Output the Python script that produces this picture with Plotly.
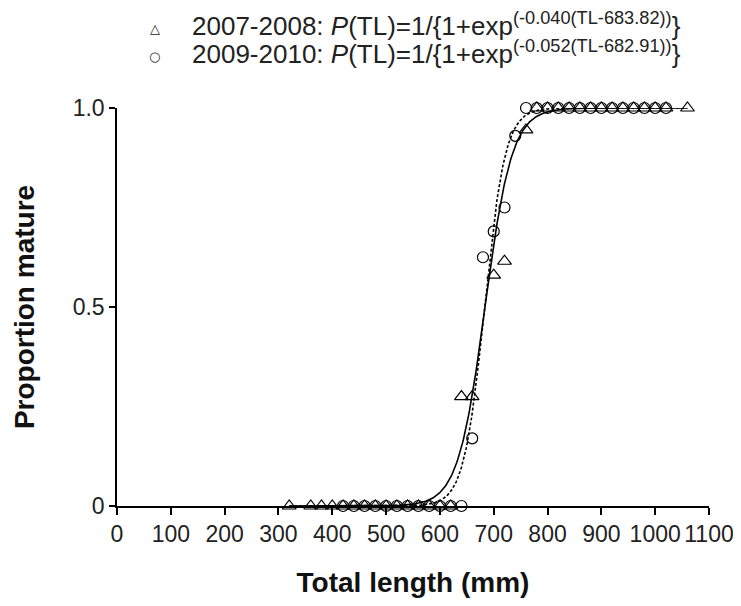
import numpy as np
import plotly.graph_objects as go

# ---- Data ----
tl_0708 = [320, 360, 380, 400, 420, 440, 460, 480, 500, 520, 540, 560, 580, 600, 620,
           640, 660, 700, 720, 760,
           780, 800, 820, 840, 860, 880, 900, 920, 940, 960, 980, 1000, 1020, 1060]
p_0708 = [0, 0, 0, 0, 0, 0, 0, 0, 0, 0, 0, 0, 0, 0, 0,
          0.275, 0.275, 0.58, 0.615, 0.945,
          1, 1, 1, 1, 1, 1, 1, 1, 1, 1, 1, 1, 1, 1]

tl_0910 = [420, 440, 460, 480, 500, 520, 540, 560, 580, 600, 620, 640,
           660, 680, 700, 720, 740,
           760, 780, 800, 820, 840, 860, 880, 900, 920, 940, 960, 980, 1000, 1020]
p_0910 = [0, 0, 0, 0, 0, 0, 0, 0, 0, 0, 0, 0,
          0.17, 0.625, 0.69, 0.75, 0.93,
          1, 1, 1, 1, 1, 1, 1, 1, 1, 1, 1, 1, 1, 1]

# fitted logistic parameters (from legend)
b_0708, m_0708 = 0.040, 683.82
b_0910, m_0910 = 0.052, 682.91
curve_x = np.linspace(320, 1060, 600)
curve_0708 = 1 / (1 + np.exp(-b_0708 * (curve_x - m_0708)))
curve_0910 = 1 / (1 + np.exp(-b_0910 * (curve_x - m_0910)))

x_ticks = [0, 100, 200, 300, 400, 500, 600, 700, 800, 900, 1000, 1100]
y_ticks = [0, 0.5, 1.0]
y_tick_labels = ["0", "0.5", "1.0"]

label_0708 = "2007-2008: <i>P</i>(TL)=1/{1+exp<sup>(-0.040(TL-683.82))</sup>}"
label_0910 = "2009-2010: <i>P</i>(TL)=1/{1+exp<sup>(-0.052(TL-682.91))</sup>}"

FONT = "Liberation Sans, Arial, sans-serif"

fig = go.Figure()
fig.add_trace(go.Scatter(x=curve_x, y=curve_0708, mode="lines",
                         line=dict(color="black", width=1.6), showlegend=False,
                         cliponaxis=False))
fig.add_trace(go.Scatter(x=curve_x, y=curve_0910, mode="lines",
                         line=dict(color="black", width=1.6, dash="3px,2px"),
                         showlegend=False, cliponaxis=False))
fig.add_trace(go.Scatter(x=tl_0708, y=p_0708, mode="markers", name="2007-2008",
                         marker=dict(symbol="triangle-up-open", size=12,
                                     color="black", line=dict(width=1.2)),
                         showlegend=False, cliponaxis=False))
fig.add_trace(go.Scatter(x=tl_0910, y=p_0910, mode="markers", name="2009-2010",
                         marker=dict(symbol="circle-open", size=11,
                                     color="black", line=dict(width=1.2)),
                         showlegend=False, cliponaxis=False))

# legend drawn as annotations (symbol + equation text)
legend_rows = [("△", label_0708, 1.164), ("○", label_0910, 1.093)]
for sym, txt, yy in legend_rows:
    fig.add_annotation(x=0.064, y=yy + 0.012, xref="paper", yref="paper", text=sym,
                       showarrow=False, xanchor="center", yanchor="bottom",
                       font=dict(size=13, family="DejaVu Sans", color="#222222"))
    fig.add_annotation(x=0.123, y=yy, xref="paper", yref="paper", text=txt,
                       showarrow=False, xanchor="left", yanchor="bottom",
                       font=dict(size=26, family=FONT, color="#222222"))

fig.update_layout(
    width=741, height=606,
    margin=dict(l=109, r=40, t=100, b=108, autoexpand=False),
    paper_bgcolor="white", plot_bgcolor="white",
    font=dict(family=FONT, color="#222222", size=23),
    showlegend=False,
    xaxis=dict(range=[0, 1100], tickvals=x_ticks, ticks="outside", ticklen=7,
               tickwidth=1.5, showline=True, linecolor="black", linewidth=1.5,
               tickcolor="black", showgrid=False, zeroline=False, tickangle=0,
               tickfont=dict(size=23, family=FONT),
               title=dict(text="<b>Total length (mm)</b>", standoff=26,
                          font=dict(size=28, family=FONT, color="#111111"))),
    yaxis=dict(range=[0, 1], tickvals=y_ticks, ticktext=y_tick_labels,
               ticks="outside", ticklen=6, tickwidth=1.5, showline=True,
               linecolor="black", linewidth=1.5, tickcolor="black",
               showgrid=False, zeroline=False,
               tickfont=dict(size=23, family=FONT),
               title=dict(text="<b>Proportion mature</b>", standoff=30,
                          font=dict(size=28, family=FONT, color="#111111"))),
)

fig.write_html("out.html")
